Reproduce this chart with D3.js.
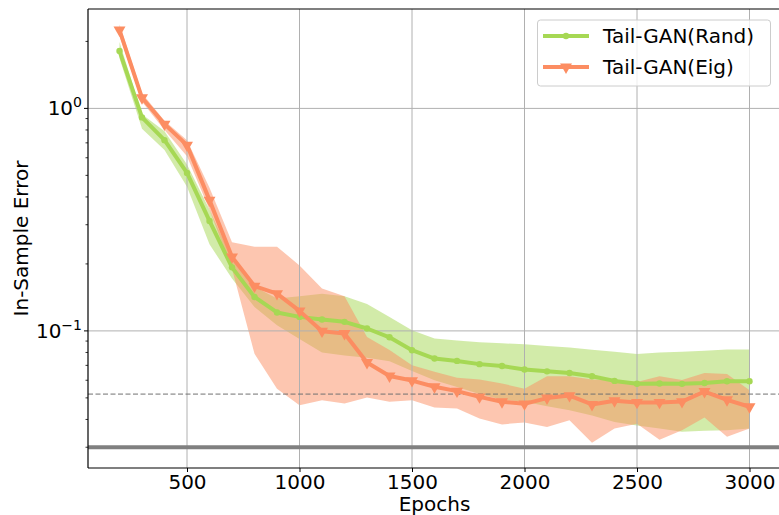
<!DOCTYPE html>
<html>
<head>
<meta charset="utf-8">
<title>In-Sample Error vs Epochs</title>
<script src="https://cdn.jsdelivr.net/npm/d3@7"></script>
<style>
  body { margin: 0; background: #fff; }
  svg text { font-family: "DejaVu Sans", sans-serif; fill: #000; }
</style>
</head>
<body>
<svg id="chart"></svg>
<script>
// data
var epochs = [200, 300, 400, 500, 600, 700, 800, 900, 1000, 1100, 1200, 1300, 1400, 1500,
  1600, 1700, 1800, 1900, 2000, 2100, 2200, 2300, 2400, 2500, 2600, 2700, 2800, 2900, 3000];

var randMean = [1.81, 0.911, 0.72, 0.513, 0.312, 0.193, 0.142, 0.121, 0.1156, 0.1125, 0.1098, 0.1025,
  0.0936, 0.0819, 0.0751, 0.0733, 0.0709, 0.0695, 0.0671, 0.0658, 0.0647, 0.0625, 0.0596, 0.0579,
  0.058, 0.0578, 0.0583, 0.0594, 0.0594];
var randLo = [1.68, 0.81, 0.65, 0.445, 0.245, 0.172, 0.128, 0.106, 0.092, 0.080, 0.0776, 0.0757,
  0.073, 0.066, 0.060, 0.056, 0.052, 0.049, 0.048, 0.0458, 0.044, 0.0417, 0.039, 0.0376,
  0.0364, 0.0352, 0.0356, 0.0358, 0.0364];
var randHi = [1.99, 0.94, 0.79, 0.56, 0.35, 0.212, 0.158, 0.14, 0.143, 0.147, 0.143, 0.132,
  0.1156, 0.1007, 0.0924, 0.0905, 0.089, 0.0879, 0.0872, 0.0855, 0.0842, 0.0822, 0.0805, 0.0788,
  0.080, 0.0806, 0.0815, 0.0825, 0.0825];

var eigMean = [2.25, 1.116, 0.85, 0.684, 0.387, 0.215, 0.159, 0.147, 0.123, 0.0997, 0.0973, 0.0721,
  0.0627, 0.0598, 0.0561, 0.0536, 0.0505, 0.048, 0.047, 0.0499, 0.0512, 0.0467, 0.0485, 0.0477,
  0.0477, 0.0481, 0.0534, 0.049, 0.0456];
var eigLo = [2.12, 1.07, 0.80, 0.61, 0.35, 0.19, 0.079, 0.055, 0.0463, 0.0488, 0.0472, 0.0502,
  0.048, 0.0488, 0.0453, 0.0448, 0.0404, 0.038, 0.0388, 0.037, 0.0397, 0.0314, 0.0364, 0.0383,
  0.0324, 0.0358, 0.0408, 0.0334, 0.0364];
var eigHi = [2.38, 1.17, 0.88, 0.72, 0.44, 0.25, 0.239, 0.239, 0.197, 0.155, 0.143, 0.094,
  0.082, 0.0701, 0.0656, 0.0615, 0.0605, 0.058, 0.055, 0.0626, 0.0626, 0.0605, 0.0601, 0.0589,
  0.0626, 0.0601, 0.0647, 0.064, 0.0541];

var refSolid = 0.03;   // thick gray line
var refDashed = 0.052; // dashed gray line

var xTicks = [500, 1000, 1500, 2000, 2500, 3000];
var yMajor = [1, 0.1];
var yMinor = [0.03, 0.04, 0.05, 0.06, 0.07, 0.08, 0.09, 0.2, 0.3, 0.4, 0.5, 0.6, 0.7, 0.8, 0.9, 2];

var seriesNames = ["Tail-GAN(Rand)", "Tail-GAN(Eig)"];
var colGreen = "#a6d854", colOrange = "#fc8d62";

var W = 779, H = 515;
var pL = 88, pT = 9, pR = 781, pB = 468;

var svg = d3.select("#chart").attr("width", W).attr("height", H);

var x = d3.scaleLinear().domain([60, 3140]).range([pL, pR]);
var y = d3.scaleLog().domain([0.0242, 2.797]).range([pB, pT]);

svg.append("defs").append("clipPath").attr("id", "plotclip")
  .append("rect").attr("x", pL).attr("y", pT).attr("width", pR - pL).attr("height", pB - pT);

var plot = svg.append("g").attr("clip-path", "url(#plotclip)");

function rows(mean, lo, hi) {
  return epochs.map(function (e, i) { return { e: e, m: mean[i], lo: lo[i], hi: hi[i] }; });
}
var rand = rows(randMean, randLo, randHi);
var eig = rows(eigMean, eigLo, eigHi);

var band = d3.area()
  .x(function (d) { return x(d.e); })
  .y0(function (d) { return y(d.lo); })
  .y1(function (d) { return y(d.hi); });

plot.append("path").datum(rand).attr("d", band).attr("fill", colGreen).attr("fill-opacity", 0.5);
plot.append("path").datum(eig).attr("d", band).attr("fill", colOrange).attr("fill-opacity", 0.5);

// grid sits above the bands, below the lines
plot.selectAll(".gx").data(xTicks).enter().append("line")
  .attr("x1", function (d) { return x(d); }).attr("x2", function (d) { return x(d); })
  .attr("y1", pT).attr("y2", pB)
  .attr("stroke", "#b0b0b0").attr("stroke-width", 1);
plot.selectAll(".gy").data(yMajor).enter().append("line")
  .attr("x1", pL).attr("x2", pR)
  .attr("y1", function (d) { return y(d); }).attr("y2", function (d) { return y(d); })
  .attr("stroke", "#b0b0b0").attr("stroke-width", 1);

plot.append("line").attr("x1", pL).attr("x2", pR)
  .attr("y1", y(refSolid)).attr("y2", y(refSolid))
  .attr("stroke", "#808080").attr("stroke-width", 4);
plot.append("line").attr("x1", pL).attr("x2", pR)
  .attr("y1", y(refDashed)).attr("y2", y(refDashed))
  .attr("stroke", "#707070").attr("stroke-width", 1).attr("stroke-dasharray", "5,2.5");

var line = d3.line()
  .x(function (d) { return x(d.e); })
  .y(function (d) { return y(d.m); });

plot.append("path").datum(rand).attr("d", line)
  .attr("fill", "none").attr("stroke", colGreen).attr("stroke-width", 4).attr("stroke-linejoin", "round");
plot.selectAll(".dot").data(rand).enter().append("circle")
  .attr("cx", function (d) { return x(d.e); }).attr("cy", function (d) { return y(d.m); })
  .attr("r", 3.2).attr("fill", colGreen);

var tri = d3.symbol().type(d3.symbolTriangle).size(62);
plot.append("path").datum(eig).attr("d", line)
  .attr("fill", "none").attr("stroke", colOrange).attr("stroke-width", 4).attr("stroke-linejoin", "round");
plot.selectAll(".tri").data(eig).enter().append("path")
  .attr("d", tri)
  .attr("transform", function (d) { return "translate(" + x(d.e) + "," + y(d.m) + ") rotate(180)"; })
  .attr("fill", colOrange);

// spines
svg.append("line").attr("x1", pL).attr("x2", pL).attr("y1", pT).attr("y2", pB).attr("stroke", "#000").attr("stroke-width", 1.2);
svg.append("line").attr("x1", pL).attr("x2", pR).attr("y1", pB).attr("y2", pB).attr("stroke", "#000").attr("stroke-width", 1.2);
svg.append("line").attr("x1", pL).attr("x2", pR).attr("y1", pT).attr("y2", pT).attr("stroke", "#000").attr("stroke-width", 1.2);

// x axis
var xAxis = svg.append("g").attr("transform", "translate(0," + pB + ")")
  .call(d3.axisBottom(x).tickValues(xTicks).tickSize(4).tickPadding(3).tickFormat(d3.format("d")));
xAxis.select(".domain").remove();
xAxis.selectAll("text").attr("font-size", 20).attr("font-family", "DejaVu Sans");
xAxis.selectAll("line").attr("stroke-width", 1);

// y axis, log
var yAxis = svg.append("g");
yAxis.selectAll(".maj").data(yMajor).enter().append("line")
  .attr("x1", pL - 4).attr("x2", pL)
  .attr("y1", function (d) { return y(d); }).attr("y2", function (d) { return y(d); })
  .attr("stroke", "#000");
yAxis.selectAll(".min").data(yMinor).enter().append("line")
  .attr("x1", pL - 2.5).attr("x2", pL)
  .attr("y1", function (d) { return y(d); }).attr("y2", function (d) { return y(d); })
  .attr("stroke", "#000").attr("stroke-width", 0.8);
var ylab = yAxis.selectAll(".lab").data(yMajor).enter().append("text")
  .attr("x", pL - 6).attr("y", function (d) { return y(d) + 7; })
  .attr("text-anchor", "end").attr("font-size", 20);
ylab.append("tspan").text("10");
ylab.append("tspan").attr("dy", -8).attr("font-size", 14)
  .text(function (d) { var p = Math.round(Math.log10(d)); return p < 0 ? "\u2212" + (-p) : String(p); });

svg.append("text").attr("x", (pL + pR) / 2).attr("y", 511)
  .attr("text-anchor", "middle").attr("font-size", 20).text("Epochs");
svg.append("text").attr("transform", "translate(28," + ((pT + pB) / 2) + ") rotate(-90)")
  .attr("text-anchor", "middle").attr("font-size", 20).text("In-Sample Error");

// legend
var lg = svg.append("g");
lg.append("rect").attr("x", 537.5).attr("y", 20).attr("width", 233).attr("height", 66)
  .attr("rx", 3).attr("fill", "#fff").attr("fill-opacity", 0.8).attr("stroke", "#cccccc");
var legendCols = [colGreen, colOrange];
seriesNames.forEach(function (name, i) {
  var ly = 36 + i * 31;
  lg.append("line").attr("x1", 543).attr("x2", 589).attr("y1", ly).attr("y2", ly)
    .attr("stroke", legendCols[i]).attr("stroke-width", 4);
  if (i === 0) {
    lg.append("circle").attr("cx", 566).attr("cy", ly).attr("r", 3.2).attr("fill", colGreen);
  } else {
    lg.append("path").attr("d", tri).attr("transform", "translate(566," + ly + ") rotate(180)").attr("fill", colOrange);
  }
  lg.append("text").attr("x", 603).attr("y", ly + 7).attr("font-size", 20).text(name);
});
</script>
</body>
</html>
